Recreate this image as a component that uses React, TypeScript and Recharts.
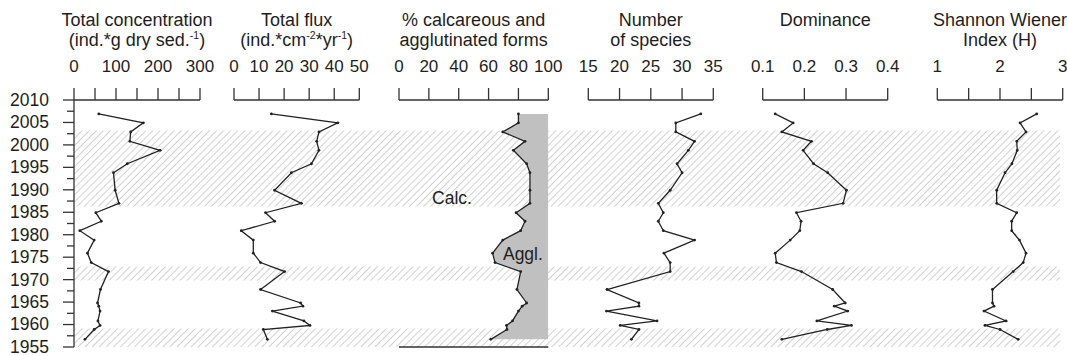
import React from "react"
import { ComposedChart, Line, Area, XAxis, YAxis, ReferenceArea, ReferenceLine, ReferenceDot } from "recharts"

// sample depths converted to years
const YEARS = [2006.9, 2004.9, 2002.9, 2000.8, 1998.8, 1995.8, 1993.8, 1989.9, 1987.0, 1984.9, 1983.0, 1980.9, 1978.8, 1975.9, 1973.8, 1971.8, 1967.8, 1964.8, 1964.1, 1963.0, 1960.8, 1959.8, 1958.9, 1956.7]

const CONCENTRATION = [59, 165, 135, 133, 205, 127, 94, 98, 107, 52, 65, 14, 48, 32, 41, 82, 63, 56, 59, 62, 57, 62, 48, 26]
const FLUX = [14.9, 41.4, 33.9, 33, 33.9, 30.9, 22.9, 16.2, 26.9, 12.6, 16.2, 2.9, 7.7, 7.7, 10.6, 20.2, 10.6, 26.6, 27.5, 15.3, 27.9, 30.3, 11.7, 13.3]
const CALCAREOUS = [80, 80, 69.5, 84.4, 76.6, 85.5, 87.7, 87.7, 87.7, 78.4, 84.4, 81.5, 69.5, 62.7, 64.3, 81.5, 79, 85.5, 82.5, 80, 76, 72, 72.3, 61.5]
const SPECIES = [33, 29, 29, 32, 31, 29.2, 30, 28.1, 26.2, 27, 26.2, 27, 32, 27.1, 28.1, 28.1, 18, 23.1, 23.1, 17.9, 26, 20.1, 23.1, 21.9]
const DOMINANCE = [0.13, 0.173, 0.146, 0.217, 0.197, 0.222, 0.256, 0.301, 0.293, 0.181, 0.192, 0.189, 0.166, 0.13, 0.133, 0.193, 0.268, 0.298, 0.272, 0.304, 0.23, 0.313, 0.255, 0.146]
const SHANNON = [2.585, 2.32, 2.415, 2.266, 2.276, 2.19, 2.08, 1.947, 1.947, 2.266, 2.186, 2.186, 2.31, 2.415, 2.37, 2.21, 1.88, 1.88, 1.905, 1.745, 2.096, 1.76, 2.0, 2.29]

// hatched intervals [top year, bottom year]
const HATCH_BANDS = [[2003.2, 1986.3], [1972.9, 1969.8], [1959.1, 1955]]

const YEAR_TICKS = [1955, 1957.5, 1960, 1962.5, 1965, 1967.5, 1970, 1972.5, 1975, 1977.5, 1980, 1982.5, 1985, 1987.5, 1990, 1992.5, 1995, 1997.5, 2000, 2002.5, 2005, 2007.5, 2010]

const ROWS = YEARS.map((year, i) => ({
  year,
  conc: CONCENTRATION[i],
  flux: FLUX[i],
  calc: CALCAREOUS[i],
  species: SPECIES[i],
  dom: DOMINANCE[i],
  shannon: SHANNON[i],
}))

const W = 1067
const H = 356
const PLOT_TOP = 100
const PLOT_BOTTOM = 9
const FONT = 'Arial, "Liberation Sans", Helvetica, sans-serif'
const INK = "#1e1e1e"
const AXIS = "#333"

function Sup({ children }: { children: React.ReactNode }) {
  return <span style={{ fontSize: 10.5, position: "relative", top: -7 }}>{children}</span>
}

type Panel = {
  key: string
  left: number
  right: number
  domain: [number, number]
  ticks: number[]
  labels: number[]
  title: React.ReactNode
}

const PANELS: Panel[] = [
  {
    key: "conc", left: 74, right: 200, domain: [0, 300],
    ticks: [0, 50, 100, 150, 200, 250, 300], labels: [0, 100, 200, 300],
    title: <>Total concentration<br />(ind.*g dry sed.<Sup>-1</Sup>)</>,
  },
  {
    key: "flux", left: 234, right: 359.3, domain: [0, 50],
    ticks: [0, 10, 20, 30, 40, 50], labels: [0, 10, 20, 30, 40, 50],
    title: <>Total flux<br />(ind.*cm<Sup>-2</Sup>*yr<Sup>-1</Sup>)</>,
  },
  {
    key: "calc", left: 399, right: 548.3, domain: [0, 100],
    ticks: [0, 20, 40, 60, 80, 100], labels: [0, 20, 40, 60, 80, 100],
    title: <>% calcareous and<br />agglutinated forms</>,
  },
  {
    key: "species", left: 588.3, right: 713.3, domain: [15, 35],
    ticks: [15, 20, 25, 30, 35], labels: [15, 20, 25, 30, 35],
    title: <>Number<br />of species</>,
  },
  {
    key: "dom", left: 762.7, right: 887.7, domain: [0.1, 0.4],
    ticks: [0.1, 0.2, 0.3, 0.4], labels: [0.1, 0.2, 0.3, 0.4],
    title: <>Dominance</>,
  },
  {
    key: "shannon", left: 937.3, right: 1062.7, domain: [1, 3],
    ticks: [1, 1.5, 2, 2.5, 3], labels: [1, 2, 3],
    title: <>Shannon Wiener<br />Index (H)</>,
  },
]

function YearTick(props: any) {
  const { x, y, payload } = props
  const major = payload.value % 5 === 0
  const axisX = x + 25
  return (
    <g>
      <line x1={axisX - (major ? 11 : 7)} x2={axisX} y1={y} y2={y} stroke={AXIS} strokeWidth={1.3} />
      {major && (
        <text x={x} y={y} dy="0.34em" textAnchor="end" fontSize={17.5} fill={INK} fontFamily={FONT}>
          {payload.value}
        </text>
      )}
    </g>
  )
}

function Background() {
  return (
    <div style={{ position: "absolute", left: 0, top: 0 }}>
      <ComposedChart width={W} height={H} data={ROWS} margin={{ top: PLOT_TOP, right: 7, bottom: PLOT_BOTTOM, left: 0 }}>
        <XAxis type="number" hide domain={[0, 1]} allowDataOverflow />
        <YAxis
          type="number"
          dataKey="year"
          domain={[1955, 2010]}
          ticks={YEAR_TICKS}
          interval={0}
          width={74}
          tickSize={11}
          tickMargin={14}
          tickLine={false}
          axisLine={{ stroke: AXIS, strokeWidth: 1.3 }}
          tick={<YearTick />}
          allowDataOverflow
        />
        {HATCH_BANDS.map(([y1, y2]) => (
          <ReferenceArea key={y1} y1={y1} y2={y2} fill="url(#hatch)" fillOpacity={1} stroke="none" />
        ))}
      </ComposedChart>
    </div>
  )
}

function PanelChart({ p }: { p: Panel }) {
  const isCalc = p.key === "calc"
  return (
    <div style={{ position: "absolute", left: 0, top: 0 }}>
      <ComposedChart
        width={W}
        height={H}
        data={ROWS}
        layout="vertical"
        margin={{ top: 0, right: W - p.right, bottom: PLOT_BOTTOM, left: p.left }}
      >
        <XAxis
          type="number"
          orientation="top"
          height={PLOT_TOP}
          domain={p.domain}
          ticks={p.ticks}
          interval={0}
          tickSize={12}
          tickMargin={16}
          tickFormatter={(v: number) => (p.labels.includes(v) ? String(v) : "")}
          tick={{ fontSize: 17, fill: INK, fontFamily: FONT }}
          axisLine={{ stroke: AXIS, strokeWidth: 1.3 }}
          tickLine={{ stroke: AXIS, strokeWidth: 1.3 }}
          allowDataOverflow
        />
        <YAxis type="number" dataKey="year" domain={[1955, 2010]} reversed hide allowDataOverflow />
        {isCalc && (
          <Area
            type="linear"
            dataKey="calc"
            baseValue={100}
            fill="#c0c0c0"
            fillOpacity={1}
            stroke="none"
            isAnimationActive={false}
          />
        )}
        {isCalc && <ReferenceLine y={1955} stroke={AXIS} strokeWidth={1.3} />}
        <Line
          type="linear"
          dataKey={p.key}
          stroke="#222"
          strokeWidth={1.3}
          dot={{ r: 1.4, fill: "#222", stroke: "#222", strokeWidth: 0 }}
          isAnimationActive={false}
        />
        {isCalc && (
          <ReferenceDot x={35.5} y={1988.2} r={0} fill="none" stroke="none"
            label={{ value: "Calc.", position: "center", fontSize: 17.5, fill: INK, fontFamily: FONT }} />
        )}
        {isCalc && (
          <ReferenceDot x={83} y={1975.8} r={0} fill="none" stroke="none"
            label={{ value: "Aggl.", position: "center", fontSize: 17.5, fill: INK, fontFamily: FONT }} />
        )}
      </ComposedChart>
    </div>
  )
}

export default function App() {
  return (
    <div style={{ position: "relative", width: W, height: H, background: "#fff", fontFamily: FONT, color: INK }}>
      <style>{"body{margin:0}"}</style>
      <svg width={0} height={0} style={{ position: "absolute" }}>
        <defs>
          <pattern id="hatch" patternUnits="userSpaceOnUse" width={5} height={5} patternTransform="rotate(45)">
            <line x1={0} y1={0} x2={0} y2={5} stroke="#b8b8b8" strokeWidth={1.3} />
          </pattern>
        </defs>
      </svg>
      <Background />
      {PANELS.map(p => (
        <PanelChart key={p.key} p={p} />
      ))}
      {PANELS.map(p => {
        const cx = (p.left + p.right) / 2
        return (
          <div
            key={`t-${p.key}`}
            style={{
              position: "absolute", left: cx - 110, width: 220, top: 11,
              textAlign: "center", fontSize: 18, lineHeight: "19.5px", whiteSpace: "nowrap",
            }}
          >
            {p.title}
          </div>
        )
      })}
    </div>
  )
}
